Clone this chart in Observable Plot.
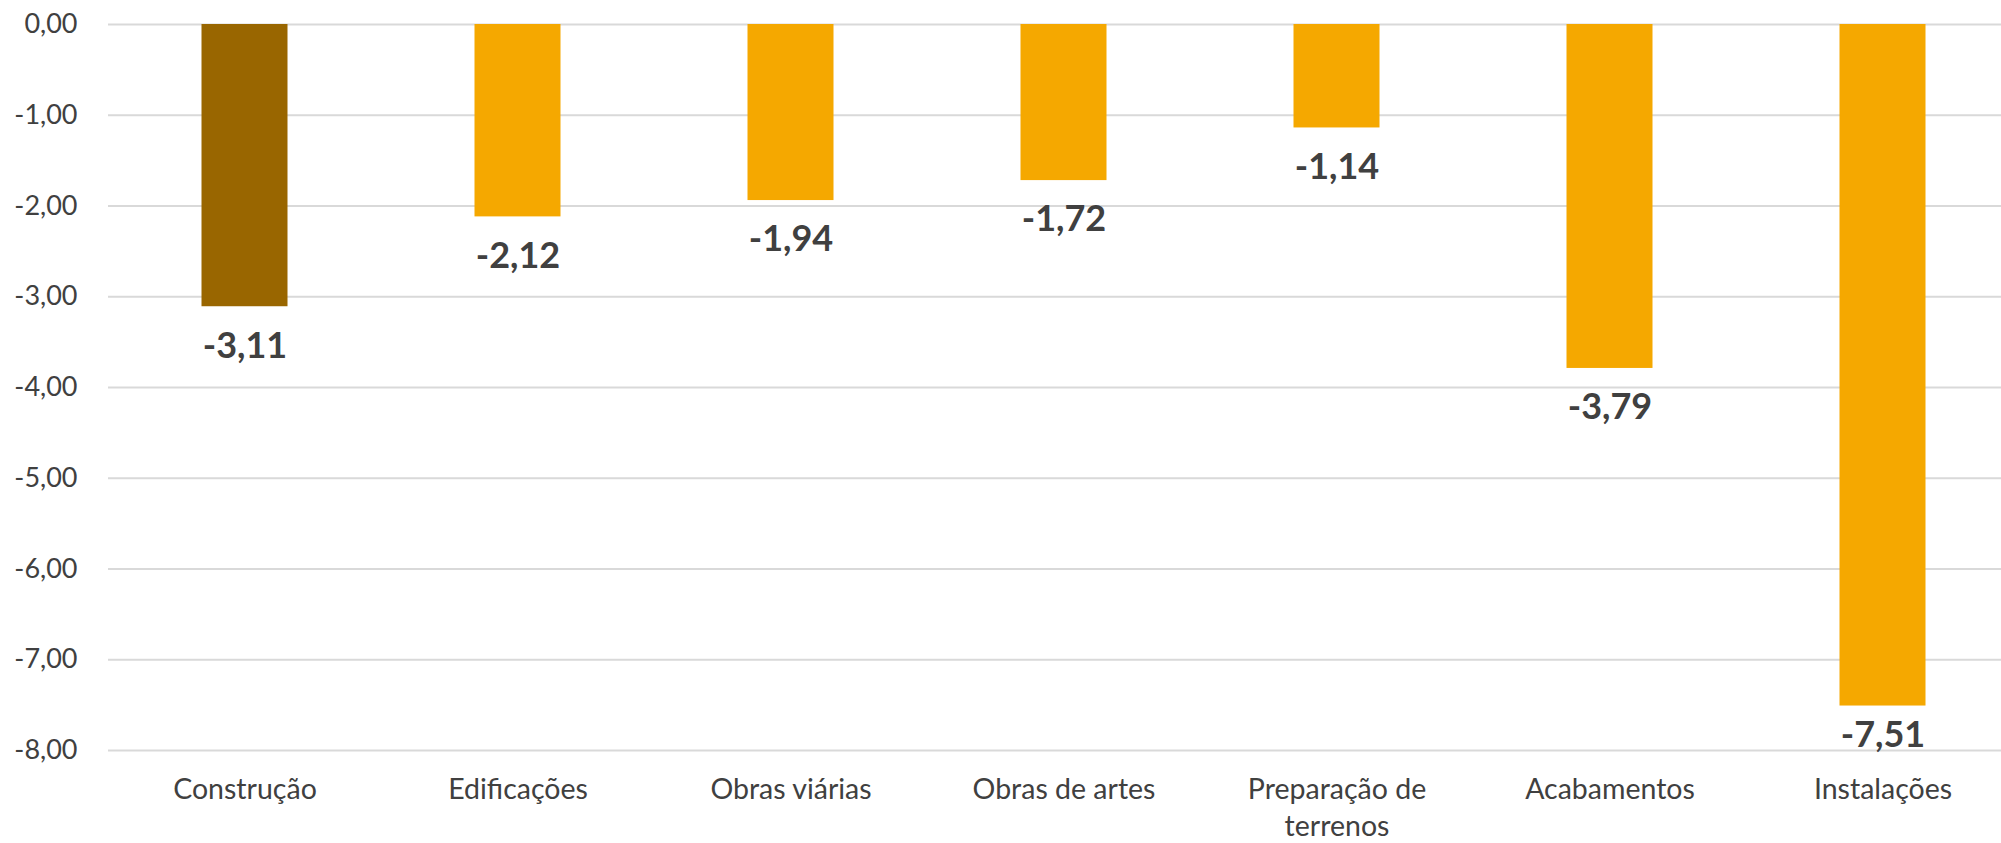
<!DOCTYPE html>
<html>
<head>
<meta charset="utf-8">
<script src="https://cdn.jsdelivr.net/npm/d3@7"></script>
<script src="https://cdn.jsdelivr.net/npm/@observablehq/plot@0.6"></script>
<style>
  html, body { margin: 0; padding: 0; background: #fff; }
  #chart svg { display: block; }
</style>
</head>
<body>
<div id="chart"></div>
<script>
const categories = ["Construção", "Edificações", "Obras viárias", "Obras de artes", "Preparação de terrenos", "Acabamentos", "Instalações"];
const tickLabels = ["Construção", "Edificações", "Obras viárias", "Obras de artes", "Preparação de\nterrenos", "Acabamentos", "Instalações"];
const values = [-3.11, -2.12, -1.94, -1.72, -1.14, -3.79, -7.51];
const yTicks = [0, -1, -2, -3, -4, -5, -6, -7, -8];
const highlight = "Construção";

const data = categories.map((c, i) => ({category: c, value: values[i]}));
const labelOf = new Map(categories.map((c, i) => [c, tickLabels[i]]));

const locale = d3.formatLocale({decimal: ",", thousands: ".", grouping: [3], currency: ["", ""], minus: "-"});
const fmt = locale.format(".2f");

const W = 2001, H = 843;
const mL = 108, mT = 24, mB = 93;

const chart = Plot.plot({
  width: W,
  height: H,
  marginTop: mT,
  marginBottom: mB,
  marginLeft: mL,
  marginRight: 0,
  style: {fontFamily: "Lato, 'Open Sans', sans-serif", color: "#404040", background: "#ffffff"},
  x: {domain: categories, range: [mL, 2019], padding: 0, label: null},
  y: {domain: [-8, 0], label: null},
  marks: [
    Plot.gridY(yTicks, {stroke: "#D9D9D9", strokeOpacity: 1, strokeWidth: 2}),
    Plot.barY(data, {
      x: "category",
      y: "value",
      fill: d => d.category === highlight ? "#996600" : "#F5A800",
      insetLeft: 93.5,
      insetRight: 93.5
    }),
    Plot.text(data, {
      x: "category",
      y: d => Math.max(d.value - 0.433, -7.83),
      text: d => fmt(d.value),
      lineAnchor: "middle",
      fontSize: 36,
      fontWeight: "bold",
      fill: "#404040"
    }),
    Plot.axisY(yTicks, {
      anchor: "left",
      tickSize: 0,
      tickPadding: 31,
      tickFormat: fmt,
      fontSize: 27,
      fill: "#404040",
      label: null
    }),
    Plot.axisX({
      anchor: "bottom",
      tickSize: 0,
      tickPadding: 22,
      tickFormat: d => labelOf.get(d),
      fontSize: 28.5,
      lineHeight: 1.3,
      fill: "#404040",
      label: null
    })
  ]
});

document.getElementById("chart").appendChild(chart);
</script>
</body>
</html>
